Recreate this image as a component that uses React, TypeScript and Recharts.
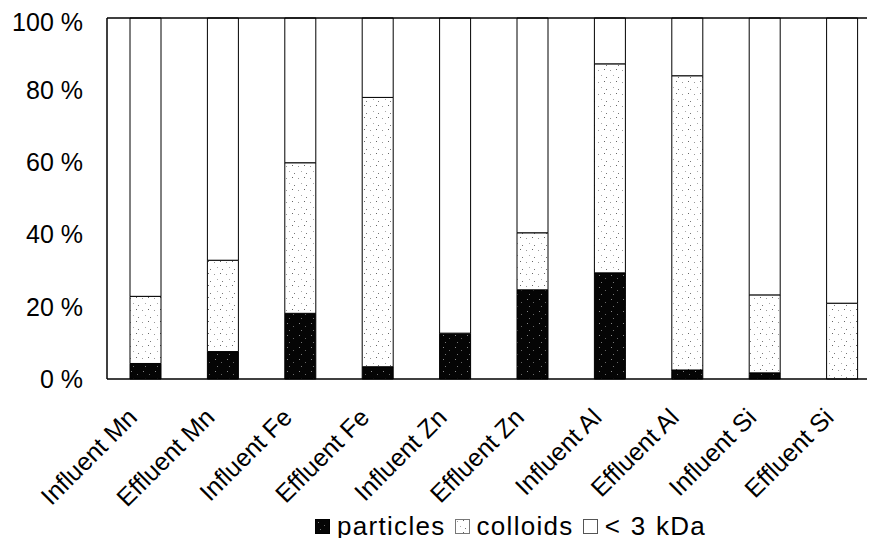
import React from "react";
import {
  BarChart,
  Bar,
  XAxis,
  YAxis,
  Legend,
  ReferenceLine,
} from "recharts";

const categories = [
  "Influent Mn",
  "Effluent Mn",
  "Influent Fe",
  "Effluent Fe",
  "Influent Zn",
  "Effluent Zn",
  "Influent Al",
  "Effluent Al",
  "Influent Si",
  "Effluent Si",
];
const particles = [4.3, 7.6, 18.2, 3.4, 12.7, 24.7, 29.4, 2.5, 1.7, 0];
const colloids = [18.6, 25.3, 41.7, 74.6, 0, 15.8, 57.9, 81.5, 21.6, 21.0];
const dissolved = [77.1, 67.1, 40.1, 22.0, 87.3, 59.5, 12.7, 16.0, 76.7, 79.0];
const yTicks = [0, 20, 40, 60, 80, 100];

const data = categories.map((name, i) => ({
  name,
  particles: particles[i],
  colloids: colloids[i],
  dissolved: dissolved[i],
}));

const FONT = "'Liberation Sans', Arial, sans-serif";

const XTick = (props: any) => {
  const { x, y, payload } = props;
  return (
    <g transform={`translate(${x - 7},${y + 40})`}>
      <text
        textAnchor="end"
        transform="rotate(-45)"
        fontSize={25}
        fontFamily={FONT}
        fill="#000"
      >
        {payload.value}
      </text>
    </g>
  );
};

const Swatch = ({ fill, border }: { fill: string; border: string }) => (
  <svg width={15} height={15} style={{ display: "block" }}>
    <rect x={0.5} y={0.5} width={14} height={14} fill={fill} stroke={border} />
  </svg>
);

const LegendBox = () => {
  const items = [
    { label: "particles", fill: "url(#darkDots)", border: "#000" },
    { label: "colloids", fill: "url(#lightDots)", border: "#777" },
    { label: "< 3 kDa", fill: "#fff", border: "#555" },
  ];
  return (
    <div
      style={{
        display: "flex",
        alignItems: "center",
        fontFamily: FONT,
        fontSize: 26,
        letterSpacing: 1.3,
        wordSpacing: 1,
        color: "#000",
        lineHeight: "30px",
        whiteSpace: "nowrap",
      }}
    >
      {items.map((it) => (
        <div
          key={it.label}
          style={{ display: "flex", alignItems: "center", marginRight: 9 }}
        >
          <Swatch fill={it.fill} border={it.border} />
          <span style={{ marginLeft: 7 }}>{it.label}</span>
        </div>
      ))}
    </div>
  );
};

export default function App() {
  return (
    <div
      style={{ width: 867, height: 538, marginBottom: -8, overflow: "hidden" }}
    >
      <BarChart
        width={880}
        height={538}
        data={data}
        margin={{ top: 10, right: 7, left: 0, bottom: 137 }}
        barSize={31}
      >
        <defs>
          <pattern
            id="lightDots"
            width={12}
            height={12}
            patternUnits="userSpaceOnUse"
          >
            <rect width={12} height={12} fill="#fff" />
            <rect x={2} y={2} width={1} height={1} fill="#999" />
            <rect x={8} y={1} width={1} height={1} fill="#666" />
            <rect x={5} y={7} width={1} height={1} fill="#aaa" />
            <rect x={10} y={9} width={1} height={1} fill="#777" />
          </pattern>
          <pattern
            id="darkDots"
            width={12}
            height={12}
            patternUnits="userSpaceOnUse"
          >
            <rect width={12} height={12} fill="#050505" />
            <rect x={3} y={3} width={1} height={1} fill="#888" />
            <rect x={9} y={6} width={1} height={1} fill="#666" />
            <rect x={5} y={10} width={1} height={1} fill="#777" />
          </pattern>
        </defs>
        <XAxis
          dataKey="name"
          interval={0}
          tickSize={0}
          tickMargin={0}
          height={30}
          axisLine={{ stroke: "#000", strokeWidth: 1.5 }}
          tick={<XTick />}
        />
        <YAxis
          domain={[0, 100]}
          ticks={yTicks}
          width={99}
          tickSize={0}
          tickMargin={24}
          axisLine={{ stroke: "#000", strokeWidth: 1.5 }}
          tickFormatter={(v) => `${v} %`}
          tick={{ fontSize: 25, fontFamily: FONT, fill: "#000" }}
        />
        <ReferenceLine y={100} stroke="#000" strokeWidth={1.5} />
        <Bar
          dataKey="particles"
          stackId="a"
          fill="url(#darkDots)"
          stroke="#000"
          strokeWidth={1}
          isAnimationActive={false}
        />
        <Bar
          dataKey="colloids"
          stackId="a"
          fill="url(#lightDots)"
          stroke="#000"
          strokeWidth={1}
          isAnimationActive={false}
        />
        <Bar
          dataKey="dissolved"
          stackId="a"
          fill="#fff"
          stroke="#000"
          strokeWidth={1}
          isAnimationActive={false}
        />
        <Legend
          layout="horizontal"
          verticalAlign="middle"
          align="center"
          wrapperStyle={{ left: 307, top: 503, width: "auto" }}
          content={() => <LegendBox />}
        />
      </BarChart>
    </div>
  );
}
